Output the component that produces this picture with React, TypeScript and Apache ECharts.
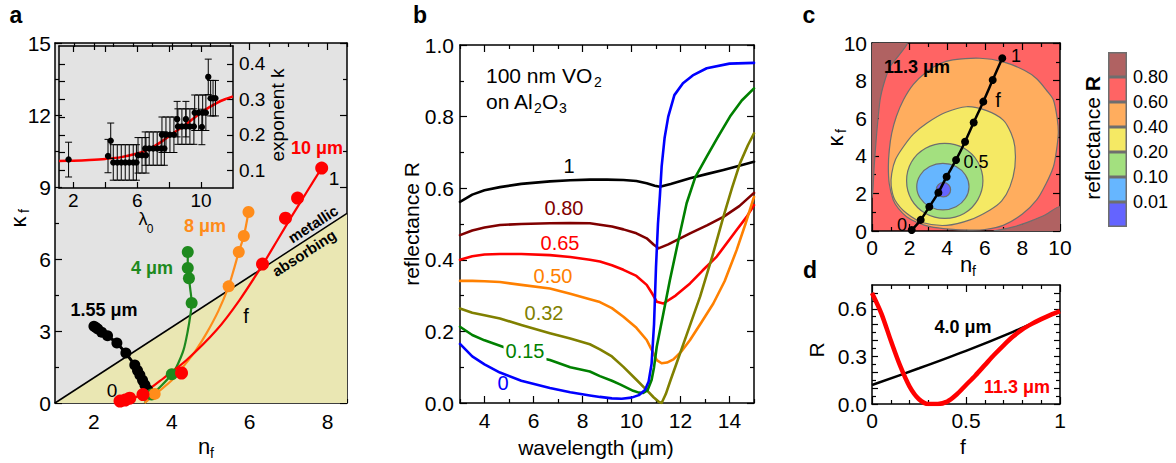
import React, { useEffect, useRef } from "react";
import * as echarts from "echarts";

const FF = '"Liberation Sans", Arial, Helvetica, sans-serif';

// ---------------- panel a : n_f / kappa_f trajectories ----------------
const metalBoundary = [[1, 0], [8.5, 7.9]];
const curve155 = [[2.0, 3.2], [2.05, 3.15], [2.1, 3.08], [2.2, 2.95], [2.35, 2.8], [2.59, 2.5], [2.82, 2.08], [3.05, 1.58], [3.12, 1.35], [3.18, 1.17], [3.25, 0.95], [3.31, 0.75], [3.38, 0.55], [3.44, 0.4]];
const curve4um = [[3.3, 0], [3.5, 0.35], [3.75, 0.75], [4.0, 1.2], [4.12, 1.5], [4.3, 2.2], [4.41, 3.0], [4.48, 3.7], [4.51, 4.17], [4.47, 4.8], [4.44, 5.2], [4.41, 5.63], [4.41, 6.29]];
const dots4um = [[3.48, 0.35], [4.0, 1.2], [4.51, 4.17], [4.44, 5.2], [4.41, 5.63], [4.41, 6.29]];
const curve8um = [[3.3, 0], [3.6, 0.4], [4.0, 0.95], [4.29, 1.51], [4.6, 2.15], [4.89, 2.9], [5.2, 3.85], [5.46, 4.86], [5.6, 5.6], [5.72, 6.29], [5.85, 6.96], [5.97, 7.96]];
const dots8um = [[3.56, 0.38], [5.46, 4.86], [5.72, 6.29], [5.85, 6.96], [5.97, 7.96]];
const curve10um = [[2.6, 0], [2.9, 0.12], [3.26, 0.4], [3.8, 1.05], [4.38, 1.79], [5.15, 3.04], [5.74, 4.29], [6.34, 5.78], [6.7, 6.75], [7.05, 7.7], [7.45, 8.75], [7.85, 9.79]];
const dots10um = [[2.67, 0.08], [2.8, 0.12], [2.92, 0.2], [3.26, 0.35], [4.25, 1.25], [6.33, 5.79], [6.92, 7.7], [7.23, 8.54], [7.85, 9.79]];

// inset: exponent k vs lambda0  [lambda, k, error]
const insetData = [
  [1.7, 0.13, 0.049], [4.17, 0.14, 0.047], [4.34, 0.183, 0.05],
  [4.5, 0.122, 0.05], [4.75, 0.122, 0.05], [5.0, 0.122, 0.05], [5.25, 0.122, 0.05], [5.5, 0.122, 0.05], [5.75, 0.122, 0.05], [5.95, 0.122, 0.05],
  [6.05, 0.142, 0.05], [6.3, 0.142, 0.05], [6.55, 0.142, 0.05],
  [6.5, 0.161, 0.047], [6.75, 0.161, 0.047], [7.0, 0.161, 0.047], [7.25, 0.161, 0.047], [7.5, 0.161, 0.047], [7.7, 0.161, 0.047],
  [7.55, 0.2, 0.05], [7.8, 0.2, 0.05], [8.05, 0.2, 0.05], [8.3, 0.2, 0.05],
  [8.5, 0.244, 0.05], [9.05, 0.244, 0.05],
  [8.55, 0.223, 0.05], [8.8, 0.223, 0.05], [9.05, 0.223, 0.05], [9.3, 0.223, 0.05], [9.55, 0.223, 0.05],
  [9.6, 0.262, 0.05], [9.85, 0.262, 0.05], [10.1, 0.262, 0.05], [10.3, 0.262, 0.05],
  [10.05, 0.222, 0.05], [10.45, 0.363, 0.05],
  [10.6, 0.303, 0.05], [10.75, 0.303, 0.05], [10.9, 0.303, 0.05],
];
const insetFit = [[1.1, 0.126], [2, 0.127], [3, 0.129], [4, 0.132], [5, 0.137], [6, 0.147], [6.5, 0.155], [7, 0.166], [7.5, 0.18], [8, 0.196], [8.5, 0.212], [9, 0.228], [9.5, 0.245], [10, 0.262], [10.5, 0.277], [11, 0.29], [11.5, 0.3], [12, 0.308]];

// ---------------- panel b : reflectance spectra ----------------
const rF100 = [[3, 0.562], [3.5, 0.582], [4, 0.594], [4.63, 0.603], [5.5, 0.612], [6.67, 0.619], [7.5, 0.622], [8.3, 0.624], [9, 0.624], [9.67, 0.623], [10.2, 0.62], [10.62, 0.614], [10.95, 0.607], [11.16, 0.604], [11.6, 0.612], [12.39, 0.628], [13.1, 0.64], [13.75, 0.651], [14.4, 0.663], [15, 0.674]];
const rF080 = [[3, 0.469], [3.5, 0.482], [4, 0.49], [4.63, 0.497], [5.5, 0.5], [6.67, 0.502], [7.5, 0.503], [8.3, 0.502], [8.71, 0.498], [9.2, 0.493], [9.67, 0.485], [10.2, 0.474], [10.62, 0.46], [10.9, 0.443], [11.1, 0.432], [11.5, 0.443], [12.39, 0.474], [13.1, 0.497], [13.75, 0.52], [14.4, 0.55], [15, 0.587]];
const rF065 = [[3, 0.4], [3.5, 0.41], [4, 0.415], [4.63, 0.416], [5.5, 0.416], [6.67, 0.413], [7.5, 0.408], [8.3, 0.4], [8.71, 0.395], [9.2, 0.385], [9.67, 0.372], [10.2, 0.355], [10.62, 0.33], [10.85, 0.305], [11.03, 0.283], [11.3, 0.278], [11.8, 0.3], [12.39, 0.334], [12.9, 0.37], [13.48, 0.409], [14.29, 0.483], [14.7, 0.52], [15, 0.553]];
const rF050 = [[3, 0.341], [3.5, 0.341], [4, 0.34], [4.63, 0.338], [5.5, 0.33], [6.67, 0.32], [7.5, 0.305], [8.3, 0.29], [8.71, 0.282], [9.2, 0.265], [9.67, 0.241], [10.2, 0.21], [10.62, 0.176], [10.85, 0.145], [11.03, 0.12], [11.23, 0.111], [11.45, 0.113], [11.71, 0.122], [12.05, 0.145], [12.39, 0.176], [12.85, 0.225], [13.34, 0.278], [13.8, 0.34], [14.29, 0.427], [14.65, 0.5], [15, 0.576]];
const rF032 = [[3, 0.264], [3.5, 0.252], [4, 0.245], [4.63, 0.236], [5.5, 0.218], [6.67, 0.195], [7.5, 0.18], [8.3, 0.164], [8.71, 0.15], [9.2, 0.13], [9.67, 0.101], [10.2, 0.065], [10.62, 0.036], [10.9, 0.016], [11.1, 0.004], [11.23, 0.0], [11.4, 0.025], [11.6, 0.065], [11.84, 0.111], [12.3, 0.2], [12.8, 0.297], [13.3, 0.41], [13.75, 0.52], [14.1, 0.6], [14.43, 0.67], [14.75, 0.72], [15, 0.753]];
const rF015 = [[3, 0.213], [3.5, 0.19], [4, 0.175], [4.63, 0.16], [5.5, 0.138], [6.67, 0.12], [7.5, 0.1], [8.3, 0.088], [8.71, 0.075], [9.2, 0.062], [9.53, 0.052], [10.07, 0.034], [10.3, 0.029], [10.48, 0.028], [10.65, 0.035], [10.82, 0.064], [10.92, 0.1], [11.03, 0.157], [11.3, 0.25], [11.57, 0.344], [11.9, 0.45], [12.25, 0.558], [12.6, 0.63], [13.07, 0.688], [13.5, 0.74], [14.02, 0.8], [14.5, 0.845], [15, 0.879]];
const rF000 = [[3, 0.165], [3.5, 0.13], [4, 0.108], [4.63, 0.085], [5.5, 0.062], [6.67, 0.042], [7.5, 0.03], [8.3, 0.021], [8.71, 0.017], [9.2, 0.013], [9.6, 0.012], [10.0, 0.015], [10.3, 0.022], [10.55, 0.036], [10.7, 0.06], [10.82, 0.11], [10.92, 0.22], [11.0, 0.38], [11.08, 0.5], [11.16, 0.58], [11.23, 0.66], [11.35, 0.74], [11.5, 0.8], [11.75, 0.86], [12.1, 0.893], [12.5, 0.915], [13.07, 0.935], [14, 0.948], [15, 0.95]];

// ---------------- panel c : contour regions (n, kappa) ----------------
const cBrownTop = [[0, 10], [1.86, 10], [1.4, 9.3], [0.96, 8.74], [0.65, 7.9], [0.43, 6.97], [0.25, 5.2], [0.12, 3.5], [0.05, 2.2], [0, 1.8]];
const cBrownBottom = [[10, 0], [10, 1.29], [9.2, 0.85], [8.5, 0.55], [7.8, 0.3], [7.0, 0.1], [6.5, 0]];
const cOrange = [[4.3, 9.1], [5.74, 9.19], [6.98, 9.0], [8.1, 8.55], [8.76, 8.1], [9.35, 7.4], [9.65, 6.97], [9.85, 6.0], [9.91, 5.2], [9.8, 4.2], [9.65, 3.42], [9.25, 2.5], [8.76, 1.65], [8.0, 0.9], [6.98, 0.3], [6.0, 0.08], [5.21, 0.05], [4.1, 0.1], [3.08, 0.23], [2.4, 0.45], [1.84, 0.76], [1.4, 1.2], [1.13, 1.65], [0.92, 2.5], [0.87, 3.4], [0.92, 4.3], [1.05, 5.2], [1.3, 6.1], [1.67, 6.97], [2.2, 7.8], [2.91, 8.47], [3.6, 8.9]];
const cYellow = [[5.03, 6.61], [6.1, 6.4], [6.98, 5.9], [7.4, 5.2], [7.6, 4.48], [7.6, 3.4], [7.34, 2.36], [6.9, 1.6], [6.28, 1.12], [5.21, 0.59], [3.97, 0.3], [2.73, 0.44], [1.84, 0.94], [1.22, 1.65], [1.02, 2.4], [1.05, 3.07], [1.25, 3.8], [1.67, 4.48], [2.2, 5.15], [2.91, 5.73], [3.9, 6.3]];
const cGreen = [[5.9, 2.67], [5.63, 3.67], [4.9, 4.4], [3.87, 4.66], [2.85, 4.4], [2.1, 3.67], [1.84, 2.67], [2.1, 1.67], [2.85, 0.93], [3.87, 0.67], [4.9, 0.93], [5.63, 1.67]];
const cBlue = [[5.16, 2.36], [4.97, 2.98], [4.47, 3.43], [3.77, 3.6], [3.07, 3.43], [2.57, 2.98], [2.38, 2.36], [2.57, 1.74], [3.07, 1.29], [3.77, 1.12], [4.47, 1.29], [4.97, 1.74]];
const cViolet = [[4.18, 2.2], [4.07, 2.47], [3.8, 2.58], [3.53, 2.47], [3.42, 2.2], [3.53, 1.93], [3.8, 1.82], [4.07, 1.93]];
const cPath = [[2.11, 0.05], [2.59, 0.59], [3.05, 1.29], [3.53, 2.04], [3.97, 2.89], [4.47, 3.78], [4.95, 4.75], [5.41, 5.77], [5.92, 6.88], [6.42, 8.03], [6.93, 9.19]];

// ---------------- panel d : R vs f ----------------
const d4um = [[0, 0.12], [0.25, 0.225], [0.5, 0.335], [0.75, 0.455], [1, 0.585]];
const d11um = [[0, 0.7], [0.05, 0.57], [0.1, 0.4], [0.15, 0.24], [0.2, 0.11], [0.25, 0.03], [0.3, 0.0], [0.35, 0.0], [0.4, 0.015], [0.45, 0.06], [0.5, 0.12], [0.55, 0.18], [0.6, 0.245], [0.65, 0.31], [0.7, 0.37], [0.75, 0.425], [0.8, 0.47], [0.85, 0.505], [0.9, 0.535], [0.95, 0.562], [1, 0.585]];

// ---------------- colour scale ----------------
const cbLabels = ["0.01", "0.10", "0.20", "0.40", "0.60", "0.80"];
const cbColors = ["#6464ff", "#66b6ff", "#a3e07f", "#f5e964", "#ffad5e", "#ff6464", "#b06262"];
const cbBlock = [1];

function axisSet(dim: string, grid: number, min: number, max: number, major: number[], minor: number[], labels: number[], fmt: (v: number) => string, o: any = {}) {
  const p0 = dim === "x" ? "bottom" : "left";
  const p1 = dim === "x" ? "top" : "right";
  const mk = (position: string, line: boolean, ticks: number[], len: number, labs: number[] | null) => ({
    type: "value", gridIndex: grid, min, max, position,
    splitLine: { show: false },
    axisLine: { show: line, onZero: false, lineStyle: { color: "#000", width: 1.5 } },
    axisTick: { show: ticks.length > 0, inside: true, length: len, customValues: ticks, lineStyle: { color: "#000", width: 1.2 } },
    axisLabel: labs ? { show: true, customValues: labs, formatter: (v: number) => fmt(v), fontSize: o.font ?? 21, fontFamily: FF, color: "#000", margin: o.margin ?? 6 } : { show: false },
  });
  const mir = !!o.labelOnMirror;
  return [
    mk(p0, true, major, o.majorLen ?? 7, mir ? null : labels),
    mk(p0, false, minor, o.minorLen ?? 4, null),
    mk(p1, true, major, o.majorLen ?? 7, mir ? labels : null),
    mk(p1, false, minor, o.minorLen ?? 4, null),
  ];
}

function txt(text: string, x: number, y: number, size: number, o: any = {}) {
  return {
    type: "text", x, y, rotation: o.rot ?? 0, z: 100,
    style: {
      text, fill: o.color ?? "#000",
      font: `${o.bold ? "bold " : ""}${size}px ${FF}`,
      align: o.align ?? "center", verticalAlign: "middle",
      backgroundColor: o.bg, padding: o.bg ? [0, 2] : 0,
    },
  };
}

const S = String;
const f1 = (v: number) => v.toFixed(1);

export default function App() {
  const ref = useRef<HTMLDivElement>(null);
  useEffect(() => {
    const chart = echarts.init(ref.current!, undefined, { renderer: "svg" });

    const xAxes: any[] = [
      ...axisSet("x", 0, 1, 8.5, [2, 4, 6, 8], [1.5, 2.5, 3, 3.5, 4.5, 5, 5.5, 6.5, 7, 7.5, 8.5], [2, 4, 6, 8], S, { margin: 8 }),
      ...axisSet("x", 1, 1.1, 12, [2, 4, 6, 8, 10], [], [2, 6, 10], S, { font: 19, majorLen: 6, margin: 3 }),
      ...axisSet("x", 2, 3, 15, [4, 6, 8, 10, 12, 14], [3, 5, 7, 9, 11, 13, 15], [4, 6, 8, 10, 12, 14], S, { margin: 7 }),
      ...axisSet("x", 3, 0, 10, [0, 2, 4, 6, 8, 10], [1, 3, 5, 7, 9], [0, 2, 4, 6, 8, 10], S),
      ...axisSet("x", 4, 0, 1, [0, 0.5, 1], [0.1, 0.2, 0.3, 0.4, 0.6, 0.7, 0.8, 0.9], [0, 0.5, 1], S),
      { type: "category", gridIndex: 5, data: ["R"], show: false },
    ];
    const yAxes: any[] = [
      ...axisSet("y", 0, 0, 15, [0, 3, 6, 9, 12, 15], [1.5, 4.5, 7.5, 10.5, 13.5], [0, 3, 6, 9, 12, 15], S, { margin: 4 }),
      ...axisSet("y", 1, 0.05, 0.45, [0.1, 0.15, 0.2, 0.25, 0.3, 0.35, 0.4], [], [0.1, 0.2, 0.3, 0.4], f1, { font: 19, majorLen: 6, labelOnMirror: true }),
      ...axisSet("y", 2, 0, 1, [0, 0.2, 0.4, 0.6, 0.8, 1.0], [0.1, 0.3, 0.5, 0.7, 0.9], [0, 0.2, 0.4, 0.6, 0.8, 1.0], f1),
      ...axisSet("y", 3, 0, 10, [0, 2, 4, 6, 8, 10], [1, 3, 5, 7, 9], [0, 2, 4, 6, 8, 10], S, { margin: 5 }),
      ...axisSet("y", 4, 0, 0.75, [0, 0.1, 0.2, 0.3, 0.4, 0.5, 0.6, 0.7], [0.05, 0.15, 0.25, 0.35, 0.45, 0.55, 0.65], [0, 0.3, 0.6], f1, { margin: 5, majorLen: 6 }),
      {
        type: "value", gridIndex: 5, min: 0, max: 7, position: "right",
        axisLine: { show: false }, axisTick: { show: false }, splitLine: { show: false },
        axisLabel: { customValues: [1, 2, 3, 4, 5, 6], formatter: (v: number) => cbLabels[Math.round(v) - 1], fontSize: 18, fontFamily: FF, color: "#000", margin: 6 },
      },
    ];

    const ax = (g: number) => ({ xAxisIndex: g * 4, yAxisIndex: g * 4 });
    const line = (g: number, data: number[][], color: string, width: number, extra: any = {}) => ({
      type: "line", ...ax(g), data, symbol: "none", smooth: 0.3, silent: true,
      lineStyle: { color, width }, ...extra,
    });
    const dots = (g: number, data: number[][], color: string, size: number) => ({
      type: "scatter", ...ax(g), data, symbol: "circle", symbolSize: size, silent: true,
      itemStyle: { color, opacity: 1 }, z: 4,
    });

    const regions = [
      { pts: cBrownTop, color: cbColors[6], smooth: 0.2 },
      { pts: cBrownBottom, color: cbColors[6], smooth: 0.2 },
      { pts: cOrange, color: cbColors[4], smooth: 0.3 },
      { pts: cYellow, color: cbColors[3], smooth: 0.3 },
      { pts: cGreen, color: cbColors[2], smooth: 0.4 },
      { pts: cBlue, color: cbColors[1], smooth: 0.4 },
      { pts: cViolet, color: cbColors[0], smooth: 0.4 },
    ];

    const bLine = (data: number[][], color: string) => line(2, data, color, 2.6, { smooth: false, lineStyle: { color, width: 2.6, join: "round", cap: "round" } });

    const series: any[] = [
      // panel a
      line(0, metalBoundary, "#000", 1.5, { smooth: false, areaStyle: { color: "#eae7b3", opacity: 1 }, z: 1 }),
      line(0, curve155, "#000", 3, { smooth: false, symbol: "circle", showSymbol: true, symbolSize: 11, itemStyle: { color: "#000" }, z: 3 }),
      line(0, curve4um, "#1e8a1e", 2.2),
      dots(0, dots4um, "#1e8a1e", 12),
      line(0, curve8um, "#ff8c1a", 2.2),
      dots(0, dots8um, "#ff8c1a", 12),
      line(0, curve10um, "#ff0000", 2.2),
      dots(0, dots10um, "#ff0000", 13),
      // inset
      line(1, insetFit, "#ff0000", 2.5, { z: 2 }),
      {
        type: "custom", ...ax(1), data: insetData, silent: true, z: 3,
        dimensions: ["x", "y", "e"], encode: { x: 0, y: 1 },
        renderItem: (_p: any, api: any) => {
          const x = api.value(0), y = api.value(1), e = api.value(2);
          const c = api.coord([x, y]);
          const t = api.coord([x, y + e]);
          const b = api.coord([x, y - e]);
          const st = { stroke: "#000", lineWidth: 1 };
          return {
            type: "group", children: [
              { type: "line", shape: { x1: c[0], y1: t[1], x2: c[0], y2: b[1] }, style: st },
              { type: "line", shape: { x1: c[0] - 3.5, y1: t[1], x2: c[0] + 3.5, y2: t[1] }, style: st },
              { type: "line", shape: { x1: c[0] - 3.5, y1: b[1], x2: c[0] + 3.5, y2: b[1] }, style: st },
              { type: "circle", shape: { cx: c[0], cy: c[1], r: 3.2 }, style: { fill: "#000" } },
            ],
          };
        },
      },
      // panel b
      bLine(rF100, "#000000"),
      bLine(rF080, "#800000"),
      bLine(rF065, "#ff0000"),
      bLine(rF050, "#ff8000"),
      bLine(rF032, "#808000"),
      bLine(rF015, "#008000"),
      bLine(rF000, "#0000ff"),
      // panel c
      {
        type: "custom", ...ax(3), data: regions.map((_r, i) => [0, 0, i]), silent: true, z: 1, clip: true,
        renderItem: (p: any, api: any) => {
          const r = regions[p.dataIndex];
          return {
            type: "polygon",
            shape: { points: r.pts.map((q) => api.coord(q)), smooth: r.smooth },
            style: { fill: r.color, stroke: "#6e6e6e", lineWidth: 1.2 },
          };
        },
      },
      line(3, cPath, "#000", 2.5, { symbol: "circle", showSymbol: true, symbolSize: 8, itemStyle: { color: "#000" }, z: 5 }),
      // panel d
      line(4, d4um, "#000", 2.5),
      line(4, d11um, "#ff0000", 4.5),
      // colour bar
      ...cbColors.map((c) => ({
        type: "bar", xAxisIndex: 20, yAxisIndex: 20, stack: "cb", data: cbBlock, barWidth: "100%", silent: true,
        itemStyle: { color: c, borderColor: "#6e6e6e", borderWidth: 1.5 },
      })),
    ];

    const R = Math.PI / 2;
    const slope = (33 * Math.PI) / 180;
    const graphic: any[] = [
      // panel letters
      txt("a", 16, 15, 23, { bold: true }),
      txt("b", 420, 15, 23, { bold: true }),
      txt("c", 809, 15, 23, { bold: true }),
      txt("d", 810, 270, 23, { bold: true }),
      // panel a
      txt("κ", 18, 222, 22, { rot: R }),
      txt("f", 24, 211, 14, { rot: R }),
      txt("n", 204, 446, 22),
      txt("f", 212, 453, 14),
      txt("1.55 μm", 104, 310, 18, { bold: true }),
      txt("4 μm", 152, 268, 18, { bold: true, color: "#1e8a1e" }),
      txt("8 μm", 205, 226, 18, { bold: true, color: "#ff8c1a" }),
      txt("10 μm", 317, 148, 18, { bold: true, color: "#ff0000" }),
      txt("0", 112, 390, 19),
      txt("f", 246, 316, 20),
      txt("1", 334, 178, 19),
      txt("metallic", 313, 224, 15, { bold: true, rot: slope }),
      txt("absorbing", 304, 253, 15, { bold: true, rot: slope }),
      // inset
      txt("λ", 143, 219, 18),
      txt("0", 150, 229, 12),
      txt("exponent k", 277, 115, 19, { rot: R }),
      // panel b
      txt("reflectance R", 411, 224, 21, { rot: R }),
      txt("wavelength (μm)", 596, 447, 21),
      txt("100 nm VO", 486, 75, 21, { align: "left" }),
      txt("2", 594, 82, 14, { align: "left" }),
      txt("on Al", 486, 101, 21, { align: "left" }),
      txt("2", 534, 108, 14, { align: "left" }),
      txt("O", 542, 101, 21, { align: "left" }),
      txt("3", 559, 108, 14, { align: "left" }),
      txt("1", 569, 166, 20),
      txt("0.80", 564, 208, 20, { color: "#800000" }),
      txt("0.65", 560, 243, 20, { color: "#ff0000" }),
      txt("0.50", 553, 276, 20, { color: "#ff8000" }),
      txt("0.32", 544, 313, 20, { color: "#808000" }),
      txt("0.15", 525, 351, 20, { color: "#008000", bg: "#ffffff" }),
      txt("0", 503, 383, 20, { color: "#0000ff" }),
      // panel c
      txt("κ", 835, 141, 22, { rot: R }),
      txt("f", 841, 131, 14, { rot: R }),
      txt("n", 966, 264, 22),
      txt("f", 974, 271, 14),
      txt("11.3 μm", 917, 67, 18, { bold: true }),
      txt("0", 902, 225, 18),
      txt("0.5", 976, 162, 18),
      txt("f", 998, 100, 20),
      txt("1", 1016, 56, 18),
      // colour bar title
      {
        type: "text", x: 1092, y: 138, rotation: R, z: 100,
        style: {
          text: "{a|reflectance }{b|R}", align: "center", verticalAlign: "middle",
          rich: { a: { font: `21px ${FF}`, fill: "#000" }, b: { font: `bold 21px ${FF}`, fill: "#000" } },
        },
      },
      // panel d
      txt("R", 816, 350, 21, { rot: R }),
      txt("f", 963, 446, 21),
      txt("4.0 μm", 963, 327, 18, { bold: true }),
      txt("11.3 μm", 1017, 387, 18, { bold: true, color: "#ff0000" }),
    ];

    chart.setOption({
      animation: false,
      backgroundColor: "#ffffff",
      textStyle: { fontFamily: FF },
      grid: [
        { left: 55, top: 43, width: 292, height: 360, show: true, backgroundColor: "#e3e3e3", borderWidth: 0 },
        { left: 59, top: 46, width: 174, height: 142, show: true, backgroundColor: "#e3e3e3", borderWidth: 0 },
        { left: 460, top: 45, width: 294, height: 358 },
        { left: 872, top: 43, width: 188, height: 188, show: true, backgroundColor: "#ff6464", borderWidth: 0 },
        { left: 872, top: 285, width: 188, height: 119 },
        { left: 1108, top: 52, width: 19, height: 175 },
      ],
      xAxis: xAxes,
      yAxis: yAxes,
      series,
      graphic,
    });
    return () => chart.dispose();
  }, []);
  return <div ref={ref} style={{ position: "absolute", left: 0, top: 0, width: 1176, height: 463 }} />;
}
